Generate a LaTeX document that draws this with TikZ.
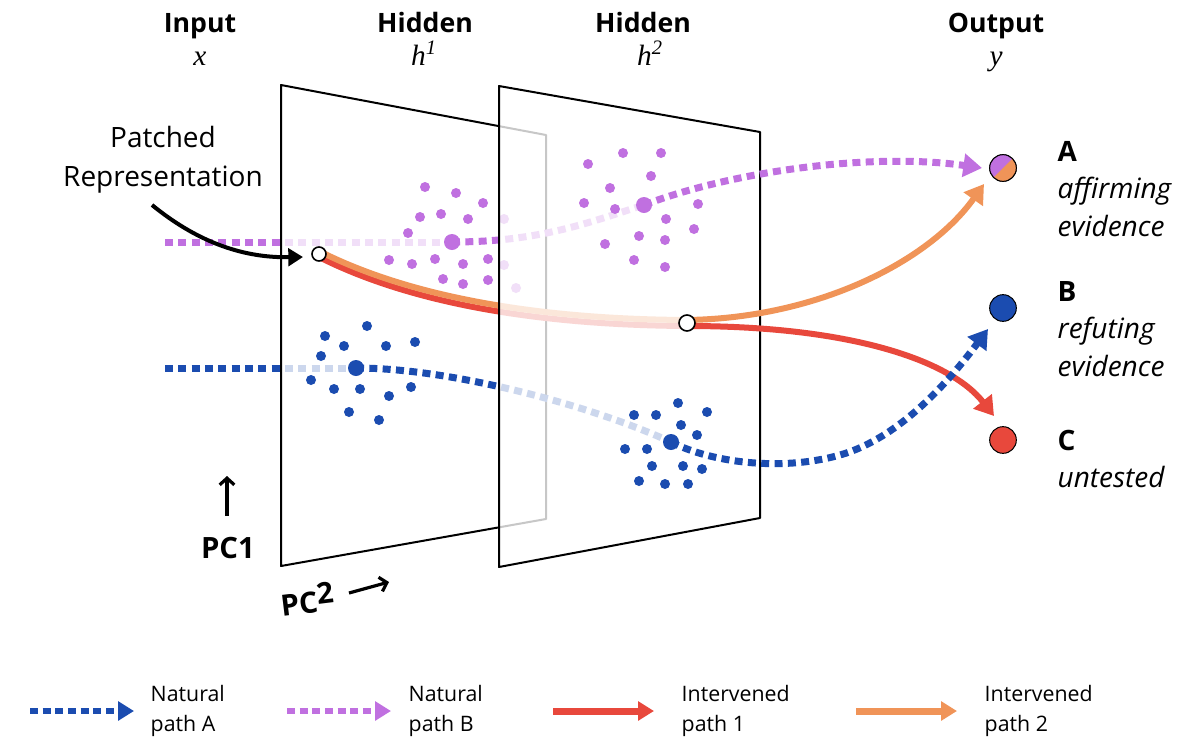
\documentclass[tikz,border=0pt]{standalone}
\usepackage{fontspec}
\setmainfont{Open Sans}
\newfontfamily\mathserif{Liberation Serif}
\usetikzlibrary{arrows.meta}
\definecolor{cpurple}{RGB}{192,112,224}
\definecolor{cblue}{RGB}{27,76,176}
\definecolor{cred}{RGB}{232,72,60}
\definecolor{corange}{RGB}{240,148,88}
\begin{document}
\begin{tikzpicture}[x=0.75pt,y=-0.75pt,
  dotline/.style={line width=5.25pt,dash pattern=on 6pt off 4pt},
  tipbig/.style={-{Triangle[length=14pt,width=17pt]}},
  tipleg/.style={-{Triangle[length=12pt,width=14pt]}},
  band/.style={line width=4.5pt},
  planebox/.style={draw=black,line width=1.5pt,fill=white,fill opacity=0.78,line join=round},
  ttl/.style={font=\fontsize{20}{24}\selectfont\bfseries,anchor=base},
  sym/.style={font=\fontsize{22}{26}\selectfont\mathserif\itshape,anchor=base},
  labb/.style={font=\fontsize{21}{24}\selectfont\bfseries,anchor=base west},
  labi/.style={font=\fontsize{21}{24}\selectfont\itshape,anchor=base west},
  ptxt/.style={font=\fontsize{21}{24}\selectfont,anchor=base},
  leg/.style={font=\fontsize{16}{22.5}\selectfont,anchor=west,align=left},
  axisarrow/.style={-{Straight Barb[length=5pt,width=11pt]},line width=2.4pt},
  whitept/.style={circle,draw=black,fill=white,line width=1.2pt,inner sep=0pt},
  outc/.style={circle,draw=black,line width=0.75pt,inner sep=0pt,minimum size=20pt},
  pcfont/.style={font=\fontsize{22}{24}\selectfont\bfseries},
]
\useasboundingbox (0,0) rectangle (1200,754);

% ---------- key coordinates ----------
\coordinate (pS) at (165,242);
\coordinate (p1) at (452,242);
\coordinate (p2) at (644,205);
\coordinate (pE) at (982,168);
\coordinate (bS) at (165,368);
\coordinate (b1) at (356,368);
\coordinate (b2) at (671,442);
\coordinate (bM) at (840,455);
\coordinate (bE) at (988,329);
\coordinate (patchO) at (319,251);
\coordinate (patchR) at (319,257);
\coordinate (midO) at (687,320);
\coordinate (midR) at (687,326);
\coordinate (oE) at (984,184);
\coordinate (rE) at (994,416);

% plane corners
\coordinate (q1a) at (281,85);
\coordinate (q1b) at (546,135);
\coordinate (q1c) at (546,519);
\coordinate (q1d) at (281,566);
\coordinate (q2a) at (499,86);
\coordinate (q2b) at (760,132);
\coordinate (q2c) at (760,518);
\coordinate (q2d) at (499,567);

% ---------- layer 0: before plane 1 ----------
\draw[cpurple,dotline] (pS) -- (p1);
\draw[cblue,dotline] (bS) -- (b1);

% ---------- plane 1 ----------
\draw[planebox] (q1a) -- (q1b) -- (q1c) -- (q1d) -- cycle;

\foreach \x/\y in {425/187,456/193,483/203,420/217,441/214,468/219,408/233,389/260,412/264,435/259,463/264,488/259,443/279,463/284,488/280,504/219,504/265,516/288}
  \fill[cpurple] (\x,\y) circle[radius=3.75pt];
\fill[cpurple] (p1) circle[radius=6pt];
\foreach \x/\y in {367/326,325/336,344/346,386/346,415/342,321/356,311/380,334/389,360/389,389/396,411/387,349/412,379/420}
  \fill[cblue] (\x,\y) circle[radius=3.75pt];
\fill[cblue] (b1) circle[radius=6pt];

\draw[cpurple,dotline] (p1) .. controls (540,242) and (590,222) .. (p2);
\draw[cblue,dotline] (b1) .. controls (450,368) and (590,405) .. (b2);
\draw[cred,band] (patchR) .. controls (400,298) and (520,325) .. (midR);
\draw[corange,band] (patchO) .. controls (400,292) and (520,319) .. (midO);
\node[whitept,minimum size=10.5pt] (patch) at (319,254) {};

% ---------- plane 2 ----------
\draw[planebox] (q2a) -- (q2b) -- (q2c) -- (q2d) -- cycle;

\foreach \x/\y in {623/153,661/153,588/164,651/176,610/188,584/203,615/209,698/204,666/219,694/229,639/236,665/240,605/244,634/260,665/267}
  \fill[cpurple] (\x,\y) circle[radius=3.75pt];
\fill[cpurple] (p2) circle[radius=6pt];
\foreach \x/\y in {678/403,634/415,656/415,707/412,681/425,697/435,625/449,647/449,652/466,683/466,702/469,639/481,665/484,688/484}
  \fill[cblue] (\x,\y) circle[radius=3.75pt];
\fill[cblue] (b2) circle[radius=6pt];

\draw[cpurple,dotline,tipbig] (p2) .. controls (730,172) and (870,152) .. (pE);
\draw[cred,band,tipbig] (midR) .. controls (850,326) and (950,360) .. (rE);
\draw[corange,band,tipbig] (midO) .. controls (820,318) and (930,260) .. (oE);
\draw[cblue,dotline,tipbig] (b2) .. controls (710,462) and (780,472) .. (bM) .. controls (900,438) and (950,380) .. (bE);
\node[whitept,minimum size=12pt] (mid) at (687,323) {};

% ---------- patched representation ----------
\node[ptxt] (pt1) at (163,147) {Patched};
\node[ptxt] (pt2) at (163,186) {Representation};
\coordinate (parrS) at (152,205);
\coordinate (parrE) at (303,257);
\draw[line width=3pt,-{Triangle[length=11pt,width=13pt]}] (parrS) .. controls (195,240) and (240,258) .. (parrE);

% ---------- titles ----------
\node[ttl] (tin) at (200,32) {Input};
\node[ttl] (th1) at (425,32) {Hidden};
\node[ttl] (th2) at (643,32) {Hidden};
\node[ttl] (tout) at (996,32) {Output};
\node[sym] (sx) at (200,65) {x};
\node[sym] (sh1) at (424,65) {h\textsuperscript{1}};
\node[sym] (sh2) at (650,65) {h\textsuperscript{2}};
\node[sym] (sy) at (996,65) {y};

% ---------- outputs ----------
\node[outc] (A) at (1003,168) {};
\fill[cpurple] (A.center) circle[radius=10pt];
\begin{scope}
  \clip (A.center) circle[radius=10pt];
  \fill[corange] (A.center) ++(-16,16) -- ++(32,-32) -- ++(0,32) -- cycle;
\end{scope}
\draw[line width=0.75pt] (A.center) circle[radius=10pt];
\node[outc,fill=cblue] (B) at (1003,308) {};
\node[outc,fill=cred] (C) at (1003,440) {};

\node[labb] (lA) at (1053,161) {A};
\node[labi] (lA1) at (1053,198) {affirming};
\node[labi] (lA2) at (1053,236) {evidence};
\node[labb] (lB) at (1053,301) {B};
\node[labi] (lB1) at (1053,338) {refuting};
\node[labi] (lB2) at (1053,376) {evidence};
\node[labb] (lC) at (1053,450) {C};
\node[labi] (lC1) at (1053,487) {untested};

% ---------- axes ----------
\node[pcfont] (pc1) at (228,548) {PC1};
\coordinate (pc1a) at (227,516);
\coordinate (pc1b) at (227,476);
\draw[axisarrow] (pc1a) -- (pc1b);
\node[pcfont,rotate=7,inner sep=1pt] (pc2) at (307,599) {PC\raisebox{0.25em}{2}};
\coordinate (pc2a) at (349,593);
\coordinate (pc2b) at (389,582);
\draw[axisarrow] (pc2a) -- (pc2b);

% ---------- legend ----------
\coordinate (l1s) at (30,711);  \coordinate (l1e) at (134,711);
\coordinate (l2s) at (287,711); \coordinate (l2e) at (391,711);
\coordinate (l3s) at (553,711); \coordinate (l3e) at (654,711);
\coordinate (l4s) at (856,711); \coordinate (l4e) at (957,711);
\draw[cblue,line width=5pt,dash pattern=on 6pt off 3.5pt,tipleg] (l1s) -- (l1e);
\draw[cpurple,line width=5pt,dash pattern=on 6pt off 3.5pt,tipleg] (l2s) -- (l2e);
\draw[cred,line width=5.25pt,tipleg] (l3s) -- (l3e);
\draw[corange,line width=5.25pt,tipleg] (l4s) -- (l4e);
\node[leg] (lt1) at (146,711) {Natural\\path A};
\node[leg] (lt2) at (404,711) {Natural\\path B};
\node[leg] (lt3) at (677,711) {Intervened\\path 1};
\node[leg] (lt4) at (980,711) {Intervened\\path 2};
\end{tikzpicture}
\end{document}
